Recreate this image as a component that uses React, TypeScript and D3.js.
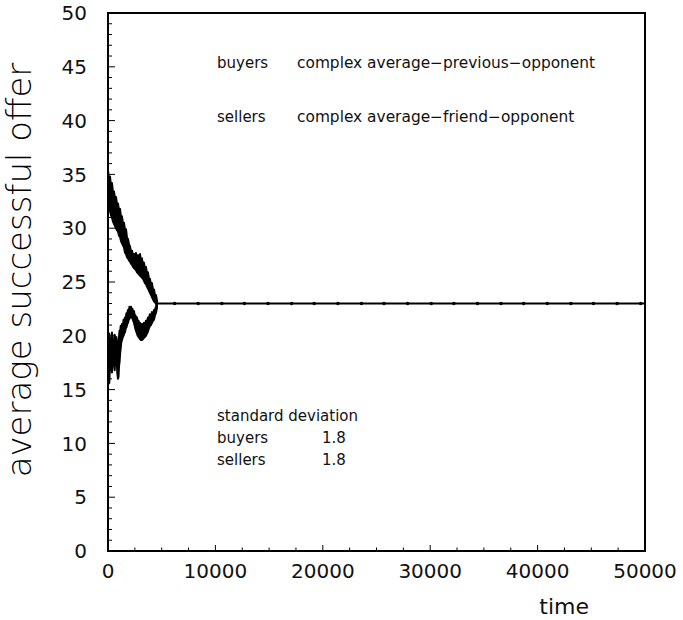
import React, { useRef, useEffect } from "react";
import * as d3 from "d3";

// envelope of the noisy transient: [time, low, high]
const buyersBand: [number, number, number][] = [
  [0, 32.4, 35.4],
  [100, 31.8, 34.4],
  [190, 31.6, 34.8],
  [280, 31.2, 33.9],
  [370, 31.0, 34.2],
  [470, 30.6, 33.3],
  [560, 30.4, 33.4],
  [650, 30.2, 32.8],
  [745, 30.0, 32.9],
  [840, 29.8, 32.2],
  [930, 29.7, 32.3],
  [1030, 29.3, 31.6],
  [1120, 29.2, 31.8],
  [1210, 28.8, 31.0],
  [1300, 28.6, 31.1],
  [1400, 28.4, 30.4],
  [1490, 28.2, 30.5],
  [1590, 27.7, 29.8],
  [1680, 27.6, 29.9],
  [1770, 27.3, 29.1],
  [1860, 27.2, 29.0],
  [1960, 27.0, 28.5],
  [2050, 26.9, 28.3],
  [2150, 26.7, 27.8],
  [2240, 26.6, 27.9],
  [2330, 26.4, 27.4],
  [2420, 26.3, 27.6],
  [2510, 26.2, 27.3],
  [2600, 26.1, 27.7],
  [2700, 25.9, 27.1],
  [2800, 25.8, 27.5],
  [2890, 25.7, 27.0],
  [2980, 25.6, 27.6],
  [3070, 25.5, 26.9],
  [3160, 25.4, 27.2],
  [3260, 25.3, 26.6],
  [3350, 25.1, 26.8],
  [3440, 24.9, 26.2],
  [3530, 24.8, 26.4],
  [3620, 24.6, 25.9],
  [3720, 24.4, 25.9],
  [3810, 24.2, 25.3],
  [3900, 24.0, 25.3],
  [4000, 23.8, 24.8],
  [4090, 23.6, 24.9],
  [4190, 23.4, 24.3],
  [4280, 23.2, 24.3],
  [4370, 23.1, 23.8],
  [4460, 23.0, 23.8],
  [4560, 22.9, 23.3],
];

const sellersBand: [number, number, number][] = [
  [0, 16.2, 20.6],
  [60, 17.0, 19.4],
  [120, 15.6, 20.2],
  [190, 17.4, 19.2],
  [250, 16.8, 19.8],
  [310, 17.6, 19.0],
  [370, 16.6, 20.3],
  [440, 17.8, 19.2],
  [500, 17.2, 19.6],
  [560, 18.0, 19.0],
  [620, 16.8, 20.1],
  [690, 17.8, 19.4],
  [745, 17.4, 19.9],
  [800, 18.2, 19.2],
  [860, 16.6, 19.4],
  [930, 16.0, 19.0],
  [980, 16.2, 19.8],
  [1030, 17.2, 20.0],
  [1080, 17.6, 20.5],
  [1130, 18.4, 20.3],
  [1180, 18.8, 20.9],
  [1240, 19.4, 20.7],
  [1300, 19.6, 21.1],
  [1380, 19.9, 21.0],
  [1450, 20.0, 21.5],
  [1520, 20.3, 21.4],
  [1580, 20.3, 21.7],
  [1650, 20.7, 21.7],
  [1720, 20.8, 22.1],
  [1790, 21.1, 22.0],
  [1860, 21.2, 22.4],
  [1930, 21.5, 22.3],
  [2000, 21.6, 22.7],
  [2070, 21.8, 22.5],
  [2140, 21.7, 22.7],
  [2210, 21.8, 22.4],
  [2280, 21.6, 22.5],
  [2350, 21.4, 22.2],
  [2420, 21.2, 22.3],
  [2490, 20.9, 21.9],
  [2560, 20.6, 21.9],
  [2630, 20.4, 21.5],
  [2700, 20.2, 21.7],
  [2770, 20.0, 21.2],
  [2840, 19.9, 21.4],
  [2910, 19.8, 21.0],
  [2980, 19.7, 21.2],
  [3070, 19.6, 20.9],
  [3160, 19.6, 21.1],
  [3260, 19.7, 20.9],
  [3350, 19.8, 21.2],
  [3440, 19.9, 21.0],
  [3530, 20.0, 21.4],
  [3620, 20.2, 21.3],
  [3720, 20.4, 21.7],
  [3810, 20.7, 21.6],
  [3900, 20.9, 22.0],
  [4000, 21.0, 21.8],
  [4090, 21.2, 22.2],
  [4190, 21.4, 22.0],
  [4280, 21.5, 22.4],
  [4370, 21.9, 22.4],
  [4460, 22.1, 22.7],
  [4560, 22.6, 23.1],
];

const equilibrium = 23.0;
const equilibriumStart = 4560;
const markerTimes = [
  6200, 8400, 10600, 12700, 14900, 17100, 19200, 21400, 23600, 25700, 27900,
  30100, 32200, 34400, 36600, 38700, 40900, 43100, 45200, 47400, 49600,
];

const xTicks = [0, 10000, 20000, 30000, 40000, 50000];
const yTicks = [0, 5, 10, 15, 20, 25, 30, 35, 40, 45, 50];

const titleLines = [
  ["buyers", "complex average\u2212previous\u2212opponent"],
  ["sellers", "complex average\u2212friend\u2212opponent"],
];
const stdRows = [
  ["buyers", "1.8"],
  ["sellers", "1.8"],
];

const FONT = "DejaVu Sans, sans-serif";

const App = () => {
  const ref = useRef<SVGSVGElement>(null);

  useEffect(() => {
    if (!ref.current) return;
    const svg = d3.select(ref.current);
    svg.selectAll("*").remove();

    const left = 108,
      right = 645,
      top = 13,
      bottom = 551;

    const x = d3.scaleLinear().domain([0, 50000]).range([left, right]);
    const y = d3.scaleLinear().domain([0, 50]).range([bottom, top]);

    const g = svg.append("g");

    // data
    const area = d3
      .area<[number, number, number]>()
      .x((d) => x(d[0]))
      .y0((d) => y(d[1]))
      .y1((d) => y(d[2]));

    [buyersBand, sellersBand].forEach((band) => {
      g.append("path")
        .attr("d", area(band))
        .attr("fill", "#000")
        .attr("stroke", "#000")
        .attr("stroke-width", 2)
        .attr("stroke-linejoin", "round");
    });

    g.append("line")
      .attr("x1", x(equilibriumStart))
      .attr("x2", x(50000))
      .attr("y1", y(equilibrium))
      .attr("y2", y(equilibrium))
      .attr("stroke", "#000")
      .attr("stroke-width", 2);

    g.selectAll(".mk")
      .data(markerTimes)
      .enter()
      .append("circle")
      .attr("cx", (d) => x(d))
      .attr("cy", y(equilibrium))
      .attr("r", 1.8)
      .attr("fill", "#000");

    // frame
    g.append("rect")
      .attr("x", left)
      .attr("y", top)
      .attr("width", right - left)
      .attr("height", bottom - top)
      .attr("fill", "none")
      .attr("stroke", "#000")
      .attr("stroke-width", 2);

    // ticks drawn inside the frame
    const xMinor = d3.range(0, 50001, 2500);
    g.selectAll(".xt")
      .data(xMinor)
      .enter()
      .append("line")
      .attr("x1", (d) => x(d))
      .attr("x2", (d) => x(d))
      .attr("y1", bottom)
      .attr("y2", (d) => bottom - (d % 10000 === 0 ? 6 : 3.5))
      .attr("stroke", "#000")
      .attr("stroke-width", 1);

    const yMinor = d3.range(0, 51, 1);
    g.selectAll(".yt")
      .data(yMinor)
      .enter()
      .append("line")
      .attr("x1", left)
      .attr("x2", (d) => left + (d % 5 === 0 ? 7 : 4))
      .attr("y1", (d) => y(d))
      .attr("y2", (d) => y(d))
      .attr("stroke", "#000")
      .attr("stroke-width", 1);

    // tick labels
    g.selectAll(".xl")
      .data(xTicks)
      .enter()
      .append("text")
      .attr("x", (d) => x(d))
      .attr("y", 578)
      .attr("text-anchor", "middle")
      .attr("font-family", FONT)
      .attr("font-size", 20)
      .attr("fill", "#111")
      .text((d) => String(d));

    g.selectAll(".yl")
      .data(yTicks)
      .enter()
      .append("text")
      .attr("x", 87)
      .attr("y", (d) => y(d))
      .attr("dy", "0.36em")
      .attr("text-anchor", "end")
      .attr("font-family", FONT)
      .attr("font-size", 20)
      .attr("fill", "#111")
      .text((d) => String(d));

    // axis titles
    g.append("text")
      .attr("x", 589)
      .attr("y", 614)
      .attr("text-anchor", "end")
      .attr("font-family", FONT)
      .attr("font-size", 22)
      .attr("fill", "#111")
      .text("time");

    g.append("text")
      .attr("transform", `translate(31,${270}) rotate(-90)`)
      .attr("text-anchor", "middle")
      .attr("font-family", FONT)
      .attr("font-weight", 200)
      .attr("font-size", 34)
      .attr("fill", "#000")
      .text("average successful offer");

    // annotations
    titleLines.forEach((row, i) => {
      const ty = 68 + i * 54;
      g.append("text")
        .attr("x", 217)
        .attr("y", ty)
        .attr("font-family", FONT)
        .attr("font-size", 15)
        .attr("fill", "#111")
        .text(row[0]);
      g.append("text")
        .attr("x", 297)
        .attr("y", ty)
        .attr("font-family", FONT)
        .attr("font-size", 15.4)
        .attr("fill", "#111")
        .text(row[1]);
    });

    g.append("text")
      .attr("x", 217)
      .attr("y", 421)
      .attr("font-family", FONT)
      .attr("font-size", 15)
      .attr("fill", "#111")
      .text("standard deviation");

    stdRows.forEach((row, i) => {
      const ty = 443 + i * 22;
      g.append("text")
        .attr("x", 217)
        .attr("y", ty)
        .attr("font-family", FONT)
        .attr("font-size", 15)
        .attr("fill", "#111")
        .text(row[0]);
      g.append("text")
        .attr("x", 322)
        .attr("y", ty)
        .attr("font-family", FONT)
        .attr("font-size", 15)
        .attr("fill", "#111")
        .text(row[1]);
    });
  }, []);

  return (
    <svg
      ref={ref}
      width={683}
      height={620}
      style={{ position: "absolute", left: 0, top: 0, background: "#fff" }}
    />
  );
};

export default App;
